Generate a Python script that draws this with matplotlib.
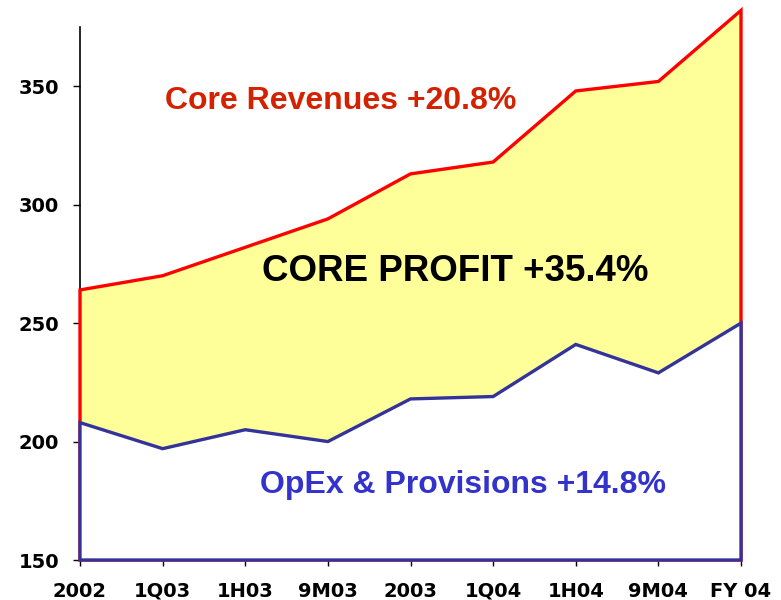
import matplotlib
matplotlib.use('Agg')
import matplotlib.pyplot as plt

# data
periods = ['2002', '1Q03', '1H03', '9M03', '2003', '1Q04', '1H04', '9M04', 'FY 04']
revenues = [264, 270, 282, 294, 313, 318, 348, 352, 382]
opex = [208, 197, 205, 200, 218, 219, 241, 229, 250]
base = 150

xs = list(range(len(periods)))

fig = plt.figure(figsize=(7.81, 6), dpi=100)
ax = fig.add_axes([80/781, 40/600, 661/781, 533/600])

# yellow profit area under revenues, white area under opex drawn on top
ax.fill(xs + [xs[-1], xs[0]], revenues + [base, base],
        facecolor='#FFFF99', edgecolor='#FF0000', lw=2.4,
        joinstyle='miter', clip_on=False, zorder=2)
ax.fill(xs + [xs[-1], xs[0]], opex + [base, base],
        facecolor='white', edgecolor='#333399', lw=2.4,
        joinstyle='miter', clip_on=False, zorder=3)

ax.set_xlim(0, len(periods) - 1)
ax.set_ylim(150, 375)
ax.set_yticks([150, 200, 250, 300, 350])
ax.set_xticks(xs)
ax.set_xticklabels(periods)

for s in ['top', 'right', 'bottom']:
    ax.spines[s].set_visible(False)
ax.spines['left'].set_color('black')
ax.spines['left'].set_linewidth(1.2)
ax.spines['left'].set_zorder(1)

ax.tick_params(axis='y', direction='out', length=5, width=1, pad=10,
               labelsize=14)
ax.tick_params(axis='x', direction='out', length=4.5, width=1, pad=22,
               labelsize=14)
for lab in ax.get_xticklabels() + ax.get_yticklabels():
    lab.set_fontweight('bold')
    lab.set_family('DejaVu Sans')
# align x labels on their baseline so "Q" does not push them down
for lab in ax.get_xticklabels():
    lab.set_verticalalignment('baseline')

ax.text(1.03, 340.3, 'Core Revenues +20.8%', color='#D42200',
        fontsize=23, fontweight='bold', family='Liberation Sans',
        ha='left', va='baseline', zorder=5)
ax.text(2.20, 267.7, 'CORE PROFIT +35.4%', color='black',
        fontsize=26.5, fontweight='bold', family='Liberation Sans',
        ha='left', va='baseline', zorder=5)
ax.text(2.18, 178.3, 'OpEx & Provisions +14.8%', color='#3333CC',
        fontsize=23, fontweight='bold', family='Liberation Sans',
        ha='left', va='baseline', zorder=5)

fig.savefig('out.png', dpi=100)
